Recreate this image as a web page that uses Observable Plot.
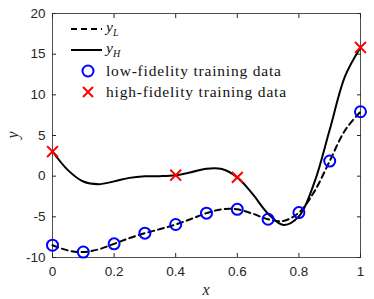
<!DOCTYPE html>
<html><head><meta charset="utf-8">
<script src="https://cdn.jsdelivr.net/npm/d3@7"></script>
<script src="https://cdn.jsdelivr.net/npm/@observablehq/plot@0.6"></script>
<style>
body{margin:0;background:#fff;}
#wrap{position:relative;width:374px;height:299px;}
#legend{position:absolute;left:68px;top:18px;font-family:"Liberation Serif",serif;font-size:15.5px;color:#111;}
.row{display:flex;align-items:center;height:21px;}
.row svg{width:36px;height:21px;flex:none;}
.row span.t{letter-spacing:0.8px;}
sub{font-size:10px;}
</style></head>
<body><div id="wrap"><div id="chart"></div><div id="legend"></div></div>
<script>
const curveX = [0,0.05,0.1,0.15,0.2,0.25,0.3,0.35,0.4,0.45,0.5,0.55,0.6,0.65,0.7,0.75,0.8,0.85,0.9,0.95,1];
const yH = [3.03,0.74,-0.66,-0.98,-0.64,-0.21,-0.02,0.00,0.12,0.48,0.91,0.87,-0.15,-2.21,-4.61,-5.99,-4.95,-0.80,5.71,12.30,15.83];
const yL = [-8.49,-9.13,-9.33,-8.99,-8.32,-7.61,-7.01,-6.50,-5.94,-5.26,-4.55,-4.07,-4.08,-4.61,-5.30,-5.50,-4.48,-1.90,1.86,5.65,7.92];
const lowX = [0,0.1,0.2,0.3,0.4,0.5,0.6,0.7,0.8,0.9,1];
const lowY = [-8.49,-9.33,-8.32,-7.01,-5.94,-4.55,-4.08,-5.30,-4.48,1.86,7.92];
const highX = [0,0.4,0.6,1];
const highY = [3.03,0.12,-0.15,15.83];
const xTicks = [0,0.2,0.4,0.6,0.8,1];
const yTicks = [-10,-5,0,5,10,15,20];
const legendLabels = ["y<sub>L</sub>","y<sub>H</sub>","low-fidelity training data","high-fidelity training data"];

const curves = curveX.map((x,i)=>({x, h:yH[i], l:yL[i]}));
const low = lowX.map((x,i)=>({x, y:lowY[i]}));
const high = highX.map((x,i)=>({x, y:highY[i]}));
const axisColor = "#262626";

const plot = Plot.plot({
  width:374, height:299,
  marginLeft:52, marginRight:14, marginTop:13, marginBottom:42,
  style:{fontFamily:"'Liberation Sans',Arial,sans-serif", fontSize:"13.5px", color:axisColor, background:"#fff"},
  x:{domain:[0,1]},
  y:{domain:[-10,20]},
  marks:[
    Plot.frame({stroke:axisColor, strokeWidth:0.8}),
    Plot.axisX({ticks:xTicks, tickSize:0, tickPadding:9, label:null, tickFormat:d=>String(d)}),
    Plot.axisX({ticks:xTicks, tickSize:-4, tickFormat:()=>"" , label:null, stroke:axisColor}),
    Plot.axisX({anchor:"top", ticks:xTicks, tickSize:-4, tickFormat:()=>"", label:null, stroke:axisColor}),
    Plot.axisY({ticks:yTicks, tickSize:0, tickPadding:7, label:null, tickFormat:d=>String(d)}),
    Plot.axisY({ticks:yTicks, tickSize:-4, tickFormat:()=>"", label:null, stroke:axisColor}),
    Plot.axisY({anchor:"right", ticks:yTicks, tickSize:-4, tickFormat:()=>"", label:null, stroke:axisColor}),
    Plot.line(curves, {x:"x", y:"l", stroke:"black", strokeWidth:2, strokeDasharray:"6,4", curve:"catmull-rom"}),
    Plot.line(curves, {x:"x", y:"h", stroke:"black", strokeWidth:2, curve:"catmull-rom"}),
    Plot.dot(low, {x:"x", y:"y", r:5.5, stroke:"#0000ff", strokeWidth:2, fill:"none"}),
    Plot.dot(high, {x:"x", y:"y", r:5, symbol:"times", stroke:"#ff0000", strokeWidth:2})
  ]
});
const svg = d3.select(plot);
svg.append("text").attr("x", 206).attr("y", 295).attr("text-anchor","middle")
  .attr("font-family","'Liberation Serif',serif").attr("font-style","italic").attr("font-size",16).attr("fill",axisColor).text("x");
svg.append("text").attr("transform","translate(18,135) rotate(-90)").attr("text-anchor","middle")
  .attr("font-family","'Liberation Serif',serif").attr("font-style","italic").attr("font-size",16).attr("fill",axisColor).text("y");
document.getElementById("chart").appendChild(plot);

const sym = [
  '<svg><line x1="3" x2="34" y1="11" y2="11" stroke="black" stroke-width="2" stroke-dasharray="6,4"/></svg>',
  '<svg><line x1="3" x2="34" y1="11" y2="11" stroke="black" stroke-width="2"/></svg>',
  '<svg><circle cx="20" cy="11" r="5.5" fill="none" stroke="#0000ff" stroke-width="2"/></svg>',
  '<svg><path d="M15,6L25,16M25,6L15,16" stroke="#ff0000" stroke-width="2"/></svg>'
];
const leg = document.getElementById("legend");
legendLabels.forEach((t,i)=>{
  const r = document.createElement("div"); r.className="row";
  r.innerHTML = sym[i] + '<span class="' + (i<2?'':'t') + '" style="margin-left:2px;' + (i<2?'font-style:italic;':'') + '">' + t + '</span>';
  leg.appendChild(r);
});
</script></body></html>
